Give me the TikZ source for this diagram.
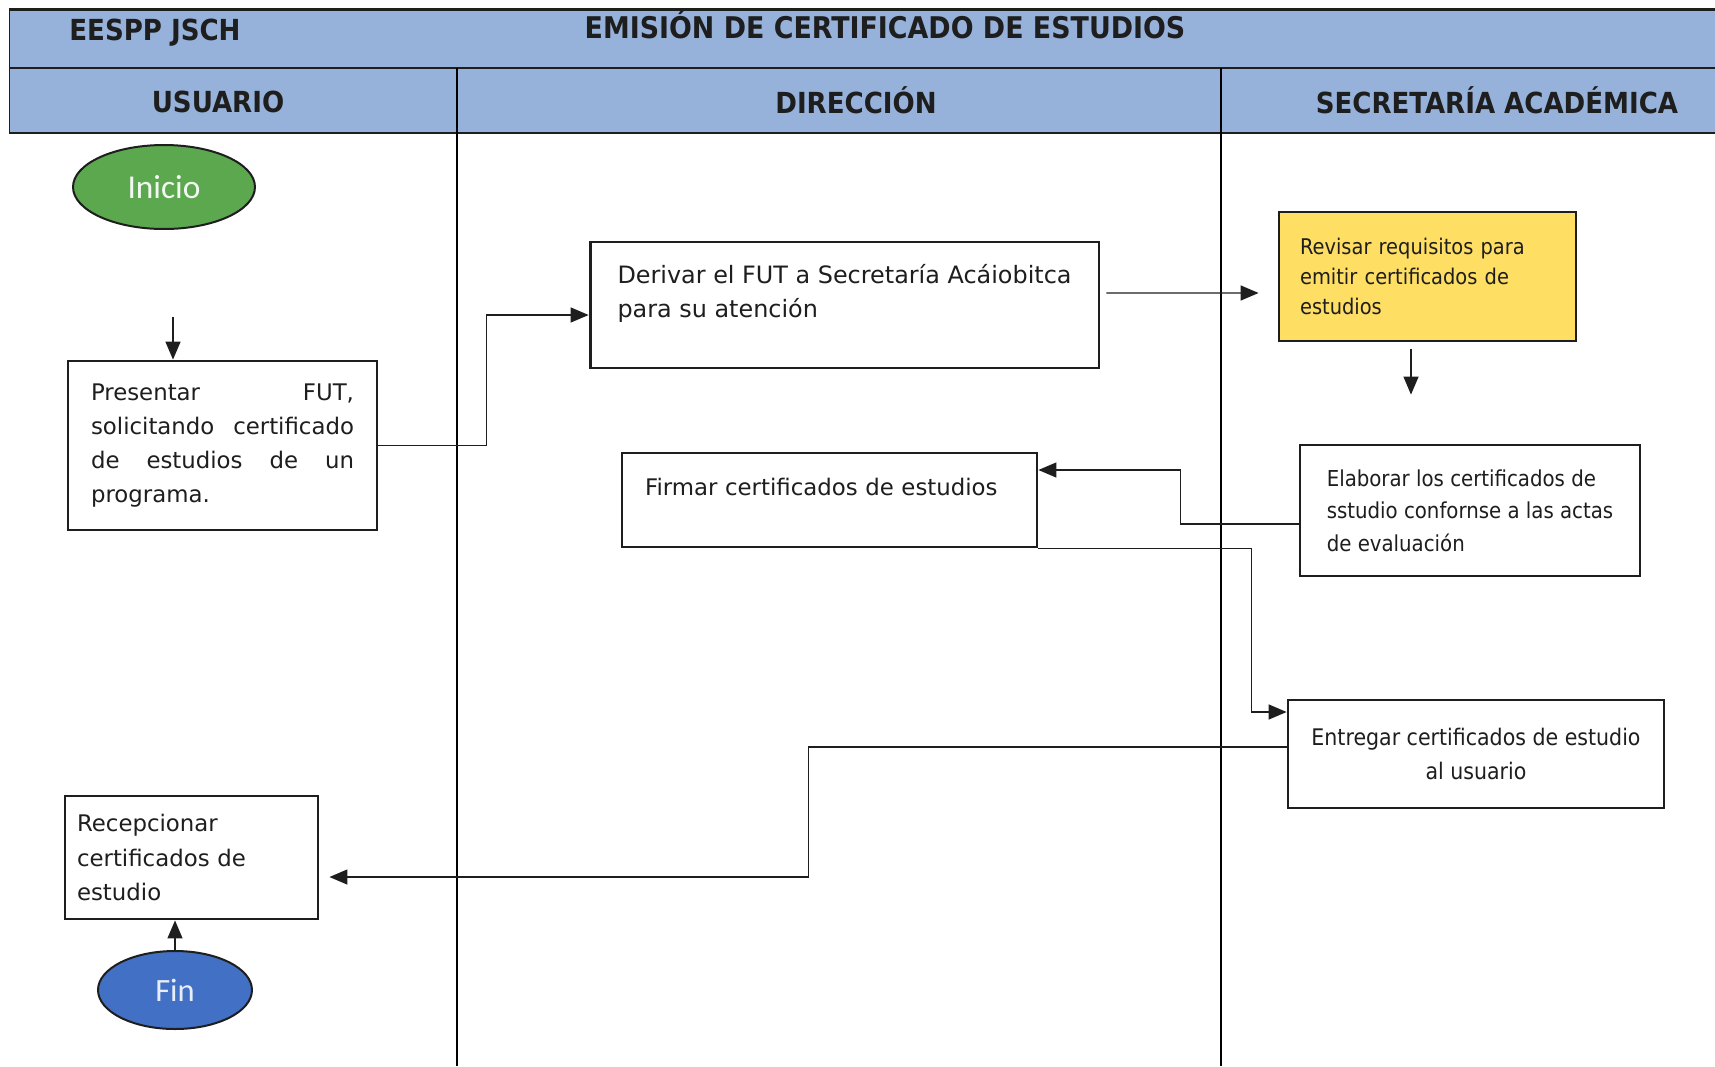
\documentclass[tikz,border=0pt]{standalone}
\usepackage{fontspec}
\setmainfont{DejaVu Sans}
\newfontfamily\narrowfont{DejaVu Sans Condensed}
\newfontfamily\ovalfont{Carlito}
\usepackage{tikz}
\usepackage{xcolor}
\usetikzlibrary{arrows.meta,positioning,shapes.geometric,calc}

\definecolor{bandblue}{RGB}{150,178,218}
\definecolor{startgreen}{RGB}{92,168,78}
\definecolor{endblue}{RGB}{66,112,196}
\definecolor{taskyellow}{RGB}{255,222,100}
\definecolor{inkgray}{RGB}{30,30,30}

\newcommand{\dropstrut}[1]{\rule[-#1]{0pt}{#1}}

\tikzset{
  proc/.style={draw=inkgray, line width=0.058cm, fill=white, inner sep=0pt,
    font=\fontsize{13}{19.4}\selectfont, text=inkgray},
  narrowproc/.style={proc, font=\narrowfont\fontsize{12.3}{18.6}\selectfont},
  oval/.style={ellipse, draw=inkgray, line width=0.04cm,
    font=\ovalfont\fontsize{19}{22}\selectfont},
  flow/.style={draw=inkgray, line width=0.028cm, -{Triangle[length=0.36cm,width=0.3cm]}},
  lane/.style={font=\narrowfont\bfseries\fontsize{16.5}{20}\selectfont, text=inkgray}
}

\begin{document}
\begin{tikzpicture}[x=0.02cm, y=-0.02cm]
\useasboundingbox (0,0) rectangle (1715,1066);
\fill[white] (0,0) rectangle (1715,1066);

% encabezado
\fill[bandblue] (9,9) rectangle (1715,133);
\draw[inkgray, line width=0.06cm] (9,9) -- (1715,9);
\draw[inkgray, line width=0.04cm] (9,68) -- (1715,68);
\draw[inkgray, line width=0.04cm] (9,133) -- (1715,133);
\draw[inkgray, line width=0.02cm] (9,9) -- (9,133);
% carriles
\draw[black, line width=0.04cm] (457,68) -- (457,1066);
\draw[black, line width=0.04cm] (1221,68) -- (1221,1066);

\node[lane] (inst) at (155,33) {EESPP JSCH};
\node[lane, font=\narrowfont\bfseries\fontsize{17}{20}\selectfont] (titulo) at (885,25)
  {EMISIÓN DE CERTIFICADO DE ESTUDIOS};
\node[lane] (usuario) at (218,102) {USUARIO};
\node[lane] (direccion) at (856,100) {DIRECCIÓN};
\node[lane] (secretaria) at (1497,100) {SECRETARÍA ACADÉMICA};

% actividades
\node[oval, fill=startgreen, minimum width=3.64cm, minimum height=1.68cm,
  text=white!92!startgreen] (inicio) at (164,187) {Inicio};
\coordinate (entrada) at (173,317);
\node[proc, minimum width=6.18cm, minimum height=3.38cm, text width=5.26cm,
  align=justify] (presentar) at (222.5,445.5)
  {Presentar FUT,\linebreak solicitando certificado\linebreak de estudios de un\linebreak programa.};
\node[proc, minimum width=10.18cm, minimum height=2.52cm, align=left,
  font=\fontsize{13.6}{19.4}\selectfont] (derivar)
  at (844.5,305) {Derivar el FUT a Secretaría Acáiobitca\\para su atención\dropstrut{0.58cm}};
\node[narrowproc, fill=taskyellow, minimum width=5.94cm, minimum height=2.58cm,
  text width=5.1cm, align=left, font=\narrowfont\fontsize{12.3}{17.2}\selectfont]
  (revisar) at (1427.5,276.5) {Revisar requisitos para\\emitir certificados de\\estudios};
\node[narrowproc, minimum width=6.8cm, minimum height=2.62cm, align=left,
  font=\narrowfont\fontsize{12.5}{18.6}\selectfont] (elaborar)
  at (1470,510.5) {Elaborar los certificados de\\sstudio confornse a las actas\\de evaluación};
\node[proc, minimum width=8.3cm, minimum height=1.88cm, text width=7.38cm,
  align=left] (firmar) at (829.5,500) {Firmar certificados de estudios\dropstrut{0.54cm}};
\node[narrowproc, minimum width=7.52cm, minimum height=2.16cm, align=center,
  font=\narrowfont\fontsize{13}{19}\selectfont] (entregar)
  at (1476,754) {Entregar certificados de estudio\\al usuario};
\node[proc, minimum width=5.06cm, minimum height=2.46cm, text width=4.58cm,
  align=left] (recepcionar) at (191.5,857.5) {Recepcionar\\certificados de\\estudio};
\node[oval, fill=endblue, minimum width=3.08cm, minimum height=1.56cm,
  text=white!88!endblue, font=\ovalfont\fontsize{18.5}{22}\selectfont] (fin) at (175,990) {Fin};

% conectores
\draw[flow] (entrada) -- (entrada |- presentar.north);
\draw[flow] (presentar.east) -- ++(108,0) |- ($(derivar.west)+(0,10)$);
\draw[flow, shorten <=0.12cm, shorten >=0.38cm] ($(derivar.east)+(0,-12)$) -- ($(revisar.west)+(0,16.5)$);
\draw[flow, shorten <=0.14cm, shorten >=0.98cm] ($(revisar.south)+(-16.5,0)$) coordinate (bajada) -- (bajada |- elaborar.north);
\draw[flow] ($(elaborar.west)+(0,13.5)$) -- ++(-118,0) |- ($(firmar.east)+(0,-30)$);
\draw[flow] (firmar.south east) -- ++(213,0) |- ($(entregar.west)+(0,-42)$);
\draw[flow, shorten >=0.2cm] ($(entregar.west)+(0,-7)$) -- ++(-478,0) |- ($(recepcionar.east)+(0,19.5)$);
\draw[flow] (fin.north) -- (fin.north |- recepcionar.south);
\end{tikzpicture}
\end{document}
